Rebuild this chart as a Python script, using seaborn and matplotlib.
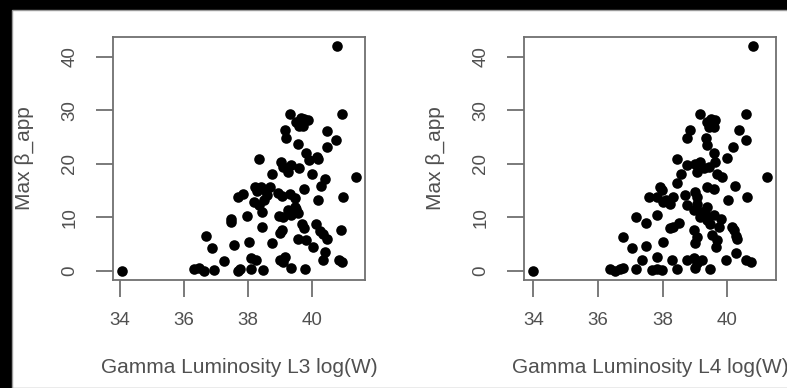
import matplotlib
matplotlib.use("Agg")
import matplotlib.pyplot as plt
from matplotlib.patches import Rectangle
import seaborn as sns
import pandas as pd

# Gamma luminosity L3 (log W) vs maximum apparent speed
lum_l3 = [34.07, 40.79, 40.92, 41.36, 40.97, 40.90, 40.83, 40.92, 40.76, 40.45,
          40.47, 39.32, 39.14, 39.19, 39.50, 39.60, 39.75, 39.87, 39.68, 39.56,
          39.82, 39.90, 40.19, 39.60, 39.04, 39.09, 39.35, 39.25, 38.33, 38.74,
          40.00, 40.39, 40.29, 40.19, 39.75, 39.25, 39.46, 39.56, 39.10, 39.35,
          38.93, 39.06, 39.30, 39.45, 38.22, 38.39, 38.52, 38.67, 37.83, 37.68,
          38.18, 38.34, 38.50, 38.44, 37.97, 37.45, 37.45, 38.44, 39.06, 39.00,
          39.69, 39.75, 40.12, 40.25, 40.35, 40.45, 39.56, 39.82, 40.03, 38.74,
          38.04, 37.57, 36.69, 36.86, 37.26, 36.32, 36.47, 36.63, 36.94, 37.68,
          37.75, 38.10, 38.10, 38.25, 38.48, 39.00, 39.14, 39.08, 39.33, 39.79,
          40.39, 40.33, 39.72, 39.65, 38.28, 38.60, 39.40, 39.50, 40.15, 38.95]
beta_l3 = [0.0, 41.9, 29.3, 17.5, 13.7, 7.7, 2.0, 1.7, 24.5, 26.1,
           23.2, 29.3, 26.3, 24.7, 27.8, 27.1, 28.4, 28.1, 27.5, 23.7,
           21.9, 20.6, 20.9, 19.1, 20.3, 19.4, 19.7, 18.4, 20.8, 18.0,
           18.0, 17.2, 15.8, 13.3, 15.3, 11.3, 11.9, 10.7, 10.1, 10.4,
           14.5, 13.9, 14.3, 13.6, 15.7, 15.7, 15.0, 15.7, 14.3, 13.8,
           12.9, 12.2, 13.2, 11.0, 10.3, 9.75, 9.1, 8.2, 7.6, 7.0,
           8.8, 7.9, 8.8, 7.5, 6.9, 6.0, 6.0, 5.7, 4.5, 5.1,
           5.3, 4.8, 6.5, 4.3, 1.8, 0.25, 0.6, 0.0, 0.1, 0.0,
           0.3, 0.4, 2.3, 2.0, 0.1, 2.0, 2.6, 1.6, 0.6, 0.4,
           3.5, 2.0, 27.0, 28.6, 14.8, 14.2, 10.9, 11.5, 21.3, 10.2]

# Gamma luminosity L4 (log W) vs maximum apparent speed
lum_l4 = [34.00, 40.79, 40.58, 41.22, 40.60, 40.37, 40.58, 40.19, 40.00, 40.24,
          40.02, 39.97, 40.27, 40.57, 40.73, 40.20, 40.31, 39.17, 38.85, 38.75,
          39.37, 39.53, 39.63, 39.58, 39.35, 39.37, 39.58, 39.63, 38.46, 38.75,
          39.01, 39.06, 39.27, 39.43, 39.17, 38.56, 38.46, 39.69, 39.84, 39.37,
          39.58, 38.70, 39.01, 39.06, 37.92, 37.97, 37.82, 37.59, 38.02, 38.23,
          38.33, 38.75, 38.96, 39.06, 39.22, 39.37, 39.17, 39.37, 39.58, 37.82,
          37.19, 37.50, 38.33, 38.23, 39.48, 39.74, 38.96, 39.06, 39.01, 39.69,
          39.64, 38.00, 36.78, 37.06, 37.50, 37.35, 37.84, 36.36, 36.52, 36.67,
          36.78, 37.19, 37.66, 37.82, 37.97, 38.28, 38.46, 38.75, 38.96, 39.06,
          39.22, 39.01, 39.48, 40.15, 40.26, 39.53, 39.50, 39.45, 38.10, 39.30,
          39.80, 38.50]
beta_l4 = [0.0, 41.9, 29.3, 17.5, 13.7, 26.2, 24.5, 23.2, 21.1, 15.8,
           13.3, 2.0, 3.4, 2.0, 1.7, 7.7, 6.0, 29.3, 26.3, 24.7,
           27.8, 27.1, 28.1, 26.8, 24.7, 23.4, 21.9, 20.3, 20.8, 19.7,
           20.0, 18.4, 19.1, 19.4, 20.3, 18.0, 16.3, 18.1, 17.5, 15.7,
           15.3, 14.1, 14.7, 13.8, 15.7, 15.0, 13.8, 13.8, 12.9, 12.5,
           13.8, 12.2, 11.3, 12.5, 11.0, 11.9, 10.1, 9.4, 10.4, 10.4,
           10.1, 8.9, 8.2, 7.9, 8.8, 8.2, 7.6, 6.3, 5.1, 5.7,
           4.5, 5.3, 6.3, 4.3, 4.6, 2.0, 2.6, 0.25, 0.0, 0.25,
           0.6, 0.25, 0.1, 0.25, 0.1, 2.0, 0.25, 2.0, 2.3, 1.4,
           2.0, 0.6, 0.4, 8.2, 6.4, 6.6, 28.3, 26.9, 13.3, 10.8,
           9.6, 9.0]

x_ticks = [34, 36, 38, 40]
y_ticks = [0, 10, 20, 30, 40]
x_labels = ["Gamma Luminosity L3 log(W)", "Gamma Luminosity L4 log(W)"]
y_label = "Max β_app"

sns.set_theme(style="white")
plt.rcParams["font.family"] = ["Liberation Sans", "DejaVu Sans"]

text_col = "#505050"
frame_col = "#707070"

fig = plt.figure(figsize=(7.87, 3.88), dpi=100, facecolor="black")
# white canvas inside the dark frame, kept underneath the axes
fig.patches.append(Rectangle((12 / 787, 0), 1, (388 - 10) / 388,
                             transform=fig.transFigure, facecolor="white",
                             edgecolor="#9a9a9a", linewidth=1.0, zorder=-10))

panels = [
    (pd.DataFrame({"lum": lum_l3, "beta": beta_l3}), [113 / 787, 0.2791, 252 / 787, 0.6245], x_labels[0]),
    (pd.DataFrame({"lum": lum_l4, "beta": beta_l4}), [524 / 787, 0.2791, 252 / 787, 0.6245], x_labels[1]),
]

for df, rect, xlab in panels:
    ax = fig.add_axes(rect)
    ax.set_zorder(1)
    sns.scatterplot(data=df, x="lum", y="beta", ax=ax, color="black",
                    s=58, linewidth=0, legend=False)
    ax.margins(0.04)
    ax.set_xticks(x_ticks)
    ax.set_yticks(y_ticks)
    for sp in ax.spines.values():
        sp.set_color(frame_col)
        sp.set_linewidth(1.3)
    ax.tick_params(axis="both", which="major", direction="out", length=12,
                   width=1.3, color=frame_col, labelcolor=text_col,
                   labelsize=13.5, bottom=True, left=True)
    ax.tick_params(axis="x", pad=11)
    ax.tick_params(axis="y", pad=13, labelrotation=90)
    for lab in ax.get_yticklabels():
        lab.set_verticalalignment("center")
    ax.set_xlabel(xlab, fontsize=15, color=text_col)
    ax.set_ylabel(y_label, fontsize=15, color=text_col)
    ax.xaxis.set_label_coords(0.5, -0.322)
    ax.yaxis.set_label_coords(-0.315, 0.5)

fig.savefig("out.png", dpi=100, facecolor=fig.get_facecolor())
